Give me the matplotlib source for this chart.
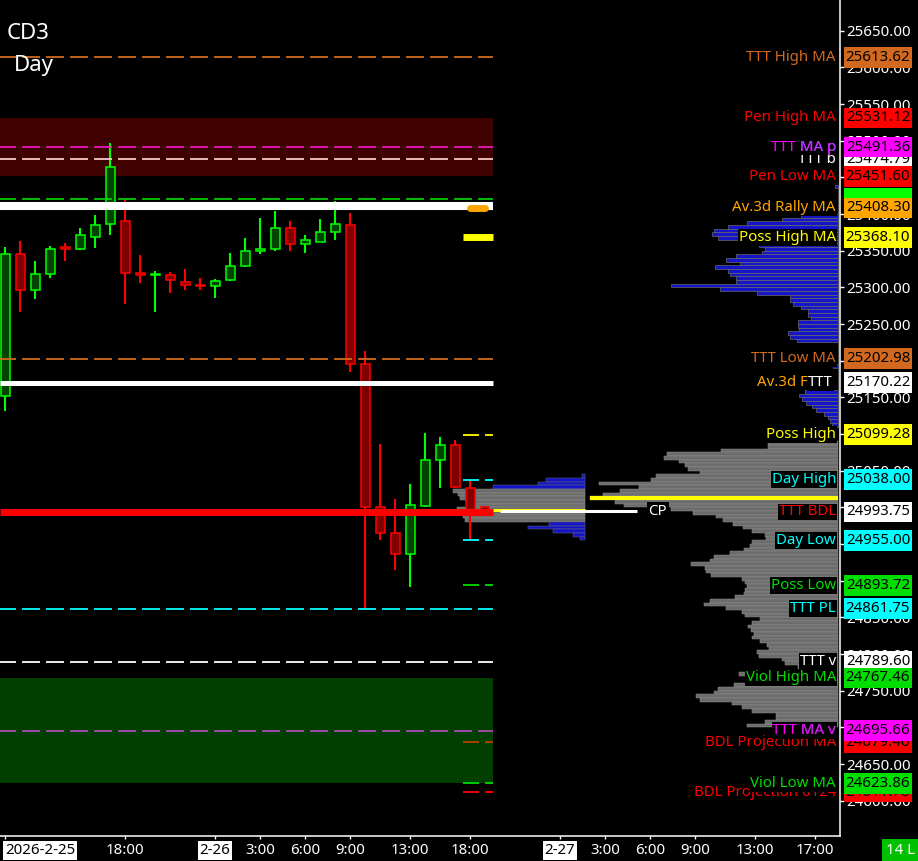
import numpy as np
import matplotlib
matplotlib.use('Agg')
import matplotlib.pyplot as plt
import matplotlib.transforms as mtransforms
from matplotlib.patches import Rectangle

plt.rcParams['font.family'] = ['Noto Sans', 'DejaVu Sans']
plt.rcParams['lines.scale_dashes'] = False

# ---------------- data ----------------
opens  = [25152, 25345, 25297, 25318, 25355, 25352, 25369, 25386, 25390, 25319, 25317,
          25317, 25308, 25303, 25302, 25310, 25329, 25349, 25352, 25381, 25359, 25362,
          25375, 25385, 25195, 25001, 24965, 24936, 25002, 25064, 25085, 25026, 25001]
highs  = [25355, 25363, 25336, 25356, 25360, 25381, 25399, 25497, 25419, 25344, 25322,
          25321, 25325, 25313, 25311, 25347, 25367, 25394, 25404, 25391, 25371, 25393,
          25418, 25401, 25213, 25087, 25011, 25032, 25101, 25096, 25092, 25038, 25002]
lows   = [25132, 25267, 25284, 25313, 25336, 25351, 25354, 25371, 25278, 25306, 25267,
          25292, 25297, 25296, 25286, 25309, 25328, 25346, 25349, 25350, 25347, 25362,
          25364, 25184, 24862, 24956, 24914, 24891, 25000, 25027, 25027, 24955, 24993]
closes = [25345, 25297, 25318, 25353, 25352, 25371, 25385, 25464, 25319, 25317, 25318,
          25310, 25303, 25302, 25309, 25329, 25349, 25352, 25381, 25359, 25364, 25375,
          25386, 25195, 25000, 24965, 24936, 25003, 25064, 25085, 25028, 24997, 24995]

xtick_slots = [0, 8, 14, 17, 20, 23, 27, 31, 37, 40, 43, 46, 50, 54]
xtick_labels = ['2026-2-25', '18:00', '2-26', '3:00', '6:00', '9:00', '13:00', '18:00',
                '2-27', '3:00', '6:00', '9:00', '13:00', '17:00']
date_labels = ['2026-2-25', '2-26', '2-27']
ytick_values = list(range(24600, 25651, 50))

# levels
ttt_high_ma = 25613.62
pen_high_ma = 25531.12
ttt_ma_p = 25491.36
ttt_b = 25474.79
pen_low_ma = 25451.60
green_hidden = 25421.00
white_upper = 25410.50
av3d_rally_ma = 25408.30
poss_high_ma = 25368.10
ttt_low_ma = 25202.98
av3d_fttt = 25170.22
poss_high = 25099.28
day_high = 25038.00
poc_a = 24997.0
cp_price = 24995.0
ttt_bdl = 24993.75
day_low = 24955.00
poss_low = 24893.72
ttt_pl = 24861.75
ttt_v = 24789.60
viol_high_ma = 24767.46
ttt_ma_v = 24695.66
bdl_proj_ma = 24679.46
viol_low_ma = 24623.86
bdl_proj_0124 = 24611.78

# volume profiles (row step 5 points, listed from the top row down)
prof_a_top = 25042.5
prof_a_vol = [3, 39, 47, 92, 132, 127, 125, 112, 112, 128, 118, 122, 120, 36, 57, 32, 12, 5]
prof_a_value_area = [0, 0, 0, 0, 1, 1, 1, 1, 1, 1, 1, 1, 1, 0, 0, 0, 0, 0]

prof_b_top = 25087.5
prof_b_vol = [70, 70, 117, 171, 174, 159, 153, 150, 138, 182, 187, 239, 199, 218, 235, 248,
              223, 214, 167, 145, 122, 115, 105, 95, 86, 73, 72, 86, 88, 94, 108, 124,
              128, 147, 133, 132, 127, 96, 93, 91, 93, 94, 103, 128, 134, 112, 96, 93,
              78, 86, 90, 87, 84, 86, 78, 71, 69, 81, 79, 56, 53, 40, 30, 99, 70, 70,
              104, 120, 124, 142, 138, 106, 96, 86, 62, 62, 73, 91]

prof_c_top = 25437.5
prof_c_vol = [3, 0, 0, 0, 0, 0, 0, 0,
              37, 56, 91, 110, 124, 126, 120, 100, 79, 73, 76, 102, 112, 98, 123, 110,
              108, 102, 102, 167, 118, 81, 48, 48, 45, 37, 30, 30, 27, 40, 40, 39, 50,
              48, 41, 0, 0, 0, 0, 0, 0, 5, 0, 0, 0, 0, 0, 0,
              33, 39, 36, 32, 26, 22, 14, 10, 8, 6]

# ---------------- layout ----------------
W, H = 918, 861
AX_W, AX_H = 840, 836
fig = plt.figure(figsize=(W / 100, H / 100), dpi=100, facecolor='black')
ax = fig.add_axes([0, (H - AX_H) / H, AX_W / W, AX_H / H])
ax.set_facecolor('black')
x_left, x_right = -1 / 3, 55 + 2 / 3
y_lo, y_hi = 24551.9, 25691.9
ax.set_xlim(x_left, x_right)
ax.set_ylim(y_lo, y_hi)
pts_per_px = (y_hi - y_lo) / AX_H

last_slot = len(opens) - 1
line_end = last_slot + 0.53
short_start = 30.5
DASH = (1.4, (12.96, 4.32))

# bands
ax.fill_between([x_left, line_end], pen_low_ma, pen_high_ma, color='#3F0000', lw=0, zorder=1)
ax.fill_between([x_left, line_end], viol_low_ma, viol_high_ma, color='#003F00', lw=0, zorder=1)

# volume profiles
def profile(top, vols, right, colors, edges, lw):
    vols = np.array(vols, dtype=float)
    lv = top - 5 * np.arange(len(vols))
    w = vols / 15.0
    ax.barh(lv, w, left=right - w, height=5, color=colors, edgecolor=edges,
            linewidth=lw, zorder=2)
    return lv, w

right_a = 38.67
right_bc = 55.53
GRAY, GRAY_EDGE = '#6C6C6C', '#8E8E8E'
cols_a = [GRAY if v else '#1414C8' for v in prof_a_value_area]
edg_a = [GRAY_EDGE if v else '#6A6A6A' for v in prof_a_value_area]
profile(prof_a_top, prof_a_vol, right_a, cols_a, edg_a, 0.35)
lvb, wb = profile(prof_b_top, prof_b_vol, right_bc, GRAY, GRAY_EDGE, 0.35)
profile(prof_c_top, prof_c_vol, right_bc, '#1414C8', '#6A6A6A', 0.5)
ipoc = int(np.argmax(prof_b_vol))
ax.plot([right_bc - wb[ipoc], right_bc], [lvb[ipoc]] * 2, color='#FFFF00', lw=2.9,
        solid_capstyle='butt', zorder=5)

# candles
for i, (o, h, l, c) in enumerate(zip(opens, highs, lows, closes)):
    up = c >= o
    ec = '#00FF00' if up else '#FF0000'
    fc = '#004400' if up else '#800000'
    ax.vlines(i, l, h, color=ec, lw=1.5, zorder=3)
    ax.add_patch(Rectangle((i - 0.3, min(o, c)), 0.6, max(abs(c - o), 0.3),
                           fc=fc, ec=ec, lw=1.1, zorder=3.1))

# horizontal level lines
def hline(p, color, lw=1.3, dashed=True, x0=x_left, x1=line_end, z=4, cap='butt'):
    kw = dict(color=color, lw=lw, zorder=z, solid_capstyle=cap)
    if dashed:
        kw['linestyle'] = DASH
    ax.plot([x0, x1], [p, p], **kw)

hline(ttt_high_ma, '#D2691E')
hline(ttt_ma_p, '#E81AB8')
hline(ttt_b, '#F5C8C8')
hline(green_hidden, '#00CC00')
hline(white_upper, 'white', lw=5.8, dashed=False)
hline(ttt_low_ma, '#D2691E')
hline(av3d_fttt, 'white', lw=3.6, dashed=False)
hline(ttt_pl, '#00FFFF')
hline(ttt_v, 'white')
hline(ttt_ma_v, '#B04CB0')
# POC extension of the current profile
hline(poc_a, '#FFFF00', lw=2.2, dashed=False, x0=27.67, x1=right_a)
hline(ttt_bdl, '#FF0000', lw=5.0, dashed=False, z=4.5)
# current price
hline(cp_price, 'white', lw=2.2, dashed=False, x0=33.0, x1=42.13, z=6)
ax.text(42.9, cp_price, 'CP', color='white', fontsize=10.8, ha='left', va='center', zorder=9,
        bbox=dict(boxstyle='square,pad=0.1', fc='black', ec='none'))

# short session lines
hline(av3d_rally_ma, '#FFA500', lw=5.0, dashed=False, x0=31.0, x1=32.0, cap='round', z=5)
hline(poss_high_ma, '#FFFF00', lw=5.0, dashed=False, x0=short_start)
for p, c in [(poss_high, '#FFFF00'), (day_high, '#00FFFF'), (day_low, '#00FFFF'),
             (poss_low, '#00DD00'), (bdl_proj_ma, '#B84000'), (viol_low_ma, '#00DD00'),
             (bdl_proj_0124, '#FF0000')]:
    hline(p, c, lw=1.3, x0=short_start)

# ---------------- axes styling ----------------
for s in ['left', 'top']:
    ax.spines[s].set_visible(False)
for s in ['right', 'bottom']:
    ax.spines[s].set_color('white')
    ax.spines[s].set_linewidth(1.1)
ax.yaxis.tick_right()
ax.set_yticks(ytick_values)
ax.set_yticklabels([f'{v:.2f}' for v in ytick_values])
ax.tick_params(axis='y', colors='white', labelsize=10.8, length=3, width=1, pad=1.5)
ax.set_xticks(xtick_slots)
ax.set_xticklabels(xtick_labels)
ax.tick_params(axis='x', colors='white', labelsize=10.8, length=2.5, width=1, pad=2.5)
for lbl in ax.get_xticklabels():
    if lbl.get_text() in date_labels:
        lbl.set_color('black')
        lbl.set_bbox(dict(boxstyle='square,pad=0.12', fc='white', ec='none'))
    if lbl.get_text() == date_labels[0]:
        lbl.set_ha('left')

# ---------------- right-side value boxes and labels ----------------
tr = mtransforms.blended_transform_factory(ax.transAxes, ax.transData)
box_h = 20.7 * pts_per_px

def value_box(price, fc, z, show_value=True):
    ax.add_patch(Rectangle((844 / AX_W, price - box_h / 2), 68 / AX_W, box_h, transform=tr,
                           fc=fc, ec='none', clip_on=False, zorder=z))
    if show_value:
        ax.text(878 / AX_W, price, f'{price:.2f}', transform=tr, ha='center', va='center',
                fontsize=10.8, color='black', clip_on=False, zorder=z + 0.005)

def name_label(price, txt, color, x_px=836, box=True, z=9):
    kw = {}
    if box:
        kw['bbox'] = dict(boxstyle='square,pad=0.06', fc='black', ec='none')
    ax.text(x_px / AX_W, price, txt, transform=tr, ha='right', va='center', fontsize=10.8,
            color=color, zorder=z, **kw)

labels = [
    (ttt_high_ma, '#D2691E', 'TTT High MA', '#D2691E'),
    (pen_high_ma, '#FF0000', 'Pen High MA', '#FF0000'),
    (ttt_b, '#FFFFFF', 'TTT b', '#FFFFFF'),
    (ttt_ma_p, '#FF00FF', 'TTT MA p', '#FF00FF'),
    (pen_low_ma, '#FF0000', 'Pen Low MA', '#FF0000'),
    (green_hidden, '#00FF00', '', '#00FF00'),
    (av3d_rally_ma, '#FFA500', 'Av.3d Rally MA', '#FFA500'),
    (poss_high_ma, '#FFFF00', 'Poss High MA', '#FFFF00'),
    (ttt_low_ma, '#D2691E', 'TTT Low MA', '#D2691E'),
    (av3d_fttt, '#FFFFFF', '', '#FFFFFF'),
    (poss_high, '#FFFF00', 'Poss High', '#FFFF00'),
    (day_high, '#00FFFF', 'Day High', '#00FFFF'),
    (ttt_bdl, '#FFFFFF', 'TTT BDL', '#FF0000'),
    (day_low, '#00FFFF', 'Day Low', '#00FFFF'),
    (poss_low, '#00DD00', 'Poss Low', '#00DD00'),
    (ttt_pl, '#00FFFF', 'TTT PL', '#00FFFF'),
    (ttt_v, '#FFFFFF', 'TTT v', '#FFFFFF'),
    (viol_high_ma, '#00DD00', 'Viol High MA', '#00DD00'),
    (bdl_proj_ma, '#FF0000', 'BDL Projection MA', '#FF0000'),
    (ttt_ma_v, '#FF00FF', 'TTT MA v', '#FF00FF'),
    (bdl_proj_0124, '#FF0000', 'BDL Projection 0124', '#FF0000'),
    (viol_low_ma, '#00DD00', 'Viol Low MA', '#00DD00'),
]
for k, (p, bc, name, tc) in enumerate(labels):
    value_box(p, bc, 10 + k * 0.01, show_value=(p != green_hidden))
    if name:
        name_label(p, name, tc, z=8 + k * 0.01)

# two-tone overlays
name_label(ttt_ma_p, 'MA p', '#A040FF', box=False, z=8.5)
name_label(ttt_ma_v, 'MA v', '#C020E0', box=False, z=8.5)
name_label(av3d_fttt, 'Av.3d F', '#FFA500', x_px=808, box=False)
name_label(av3d_fttt, 'TTT', '#FFFFFF', x_px=833, box=True, z=8.4)

# title and status
fig.text(7 / W, 1 - 39 / H, 'CD3', color='white', fontsize=16, ha='left', va='baseline')
fig.text(14 / W, 1 - 71 / H, 'Day', color='white', fontsize=16, ha='left', va='baseline')
fig.text(900 / W, 1 - 850 / H, '14 L', color='white', fontsize=10.8, ha='center', va='center',
         bbox=dict(boxstyle='square,pad=0.25', fc='#00C000', ec='none'))

fig.savefig('out.png', dpi=100, facecolor='black')
